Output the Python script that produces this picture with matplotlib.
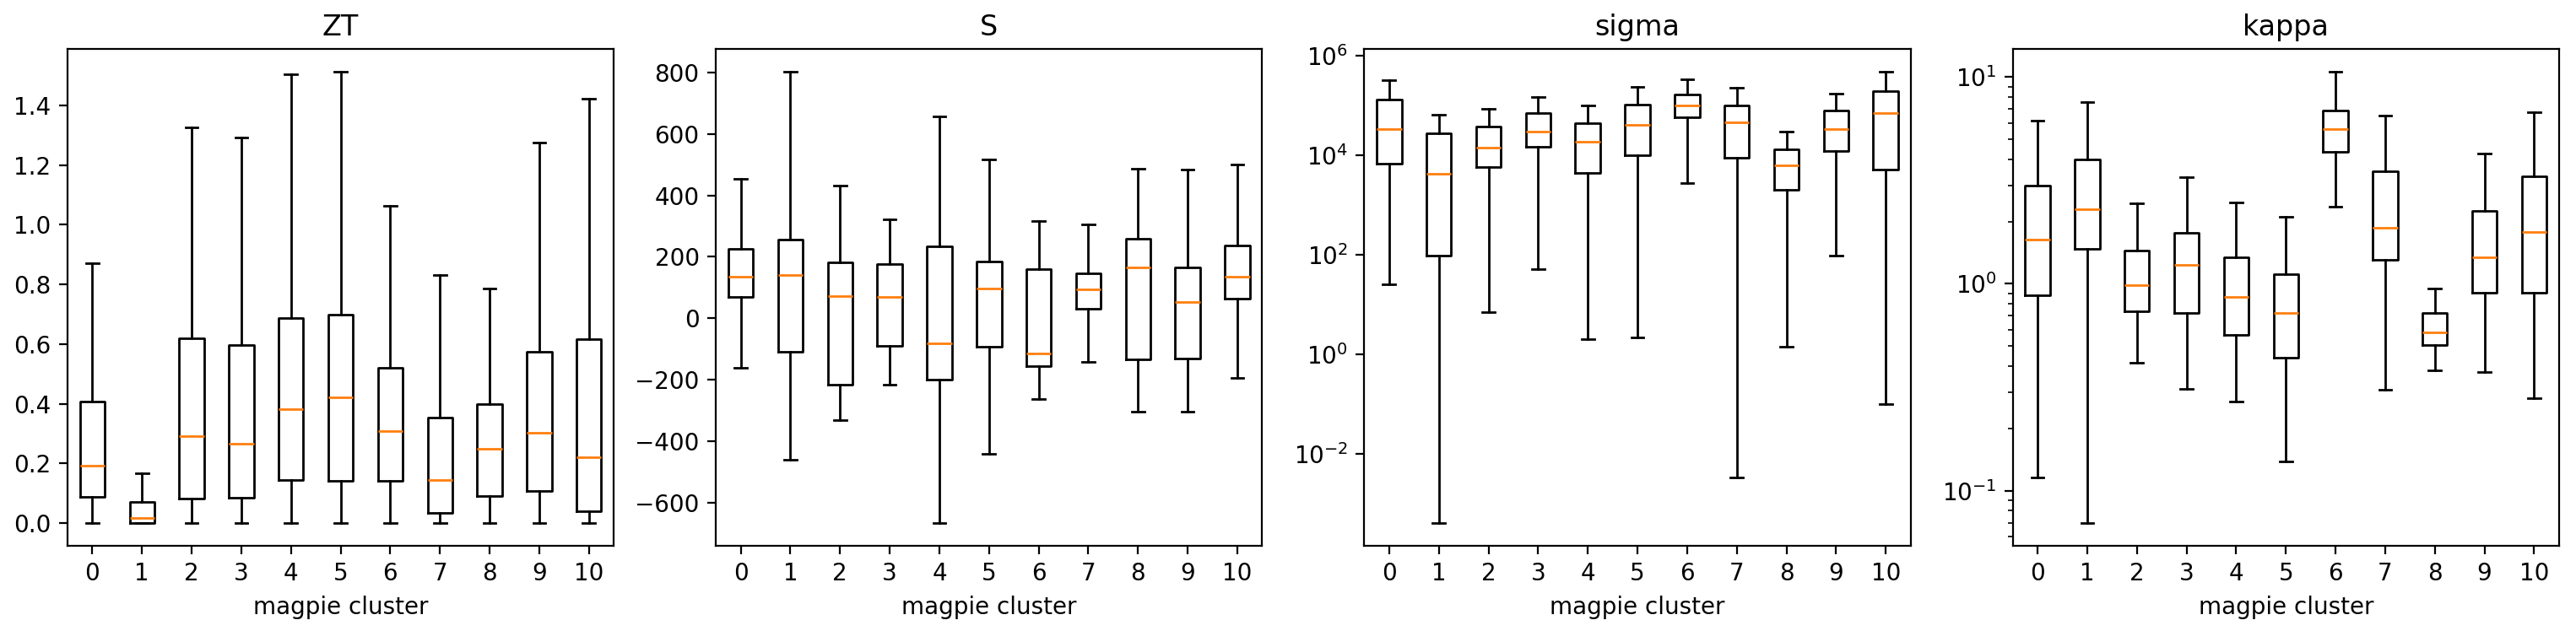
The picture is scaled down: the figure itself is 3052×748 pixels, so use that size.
import matplotlib
matplotlib.use("Agg")
import matplotlib.pyplot as plt

clusters = [str(i) for i in range(11)]

# box stats per cluster: lower whisker, q1, median, q3, upper whisker
zt_lo = [0.0] * 11
zt_q1 = [0.0875, 0.001, 0.083, 0.086, 0.144, 0.141, 0.141, 0.036, 0.0915, 0.108, 0.040]
zt_med = [0.194, 0.019, 0.291, 0.267, 0.382, 0.423, 0.310, 0.145, 0.248, 0.304, 0.222]
zt_q3 = [0.4065, 0.070, 0.619, 0.596, 0.688, 0.699, 0.522, 0.354, 0.400, 0.575, 0.617]
zt_hi = [0.871, 0.168, 1.325, 1.291, 1.504, 1.512, 1.063, 0.832, 0.785, 1.276, 1.423]

s_lo = [-162, -462, -333, -216, -668, -443, -262, -141, -305, -305, -194]
s_q1 = [69, -109, -216, -89, -200, -94, -157, 31, -135, -130, 63]
s_med = [136, 140, 72, 69, -81, 97, -114, 94, 166, 54, 134]
s_q3 = [226, 257, 182, 177, 234, 185, 160, 147, 259, 166, 237]
s_hi = [454, 803, 432, 322, 657, 517, 317, 305, 487, 485, 500]

sig_lo = [25.8, 4.1e-4, 7.16, 52.2, 2.06, 2.22, 2780, 3.34e-3, 1.40, 94.6, 0.1]
sig_q1 = [6650, 94.6, 5840, 1.45e4, 4340, 1.0e4, 5.62e4, 8790, 2025, 1.20e4, 5130]
sig_med = [3.28e4, 4180, 1.40e4, 2.94e4, 1.85e4, 4.03e4, 1.0e5, 4.5e4, 6290, 3.28e4, 6.9e4]
sig_q3 = [1.30e5, 2.72e4, 3.74e4, 6.9e4, 4.42e4, 1.02e5, 1.62e5, 9.8e4, 1.30e4, 7.7e4, 1.92e5]
sig_hi = [3.16e5, 6.4e4, 8.46e4, 1.45e5, 9.8e4, 2.35e5, 3.28e5, 2.26e5, 2.99e4, 1.68e5, 4.67e5]

kap_lo = [0.1164, 0.0696, 0.416, 0.311, 0.2686, 0.139, 2.36, 0.307, 0.381, 0.376, 0.281]
kap_q1 = [0.878, 1.476, 0.738, 0.725, 0.569, 0.441, 4.33, 1.302, 0.507, 0.906, 0.906]
kap_med = [1.635, 2.30, 0.987, 1.24, 0.863, 0.725, 5.62, 1.862, 0.582, 1.343, 1.78]
kap_q3 = [2.978, 3.98, 1.45, 1.772, 1.349, 1.113, 6.87, 3.50, 0.725, 2.256, 3.31]
kap_hi = [6.14, 7.58, 2.445, 3.285, 2.466, 2.10, 10.6, 6.54, 0.948, 4.26, 6.78]


def make_stats(lo, q1, med, q3, hi):
    return [dict(label=c, whislo=a, q1=b, med=m, q3=d, whishi=e, fliers=[])
            for c, a, b, m, d, e in zip(clusters, lo, q1, med, q3, hi)]


panels = [
    ("ZT", make_stats(zt_lo, zt_q1, zt_med, zt_q3, zt_hi), False),
    ("S", make_stats(s_lo, s_q1, s_med, s_q3, s_hi), False),
    ("sigma", make_stats(sig_lo, sig_q1, sig_med, sig_q3, sig_hi), True),
    ("kappa", make_stats(kap_lo, kap_q1, kap_med, kap_q3, kap_hi), True),
]

fig, axes = plt.subplots(1, 4, figsize=(15.26, 3.74), dpi=200)
for ax, (title, stats, logy) in zip(axes, panels):
    if logy:
        ax.set_yscale("log")
    ax.bxp(stats, positions=range(len(clusters)), showfliers=False)
    ax.set_title(title)
    ax.set_xlabel("magpie cluster")

fig.subplots_adjust(left=0.0262, right=0.9934, top=0.922, bottom=0.135, wspace=0.187)
fig.savefig("out.png")
